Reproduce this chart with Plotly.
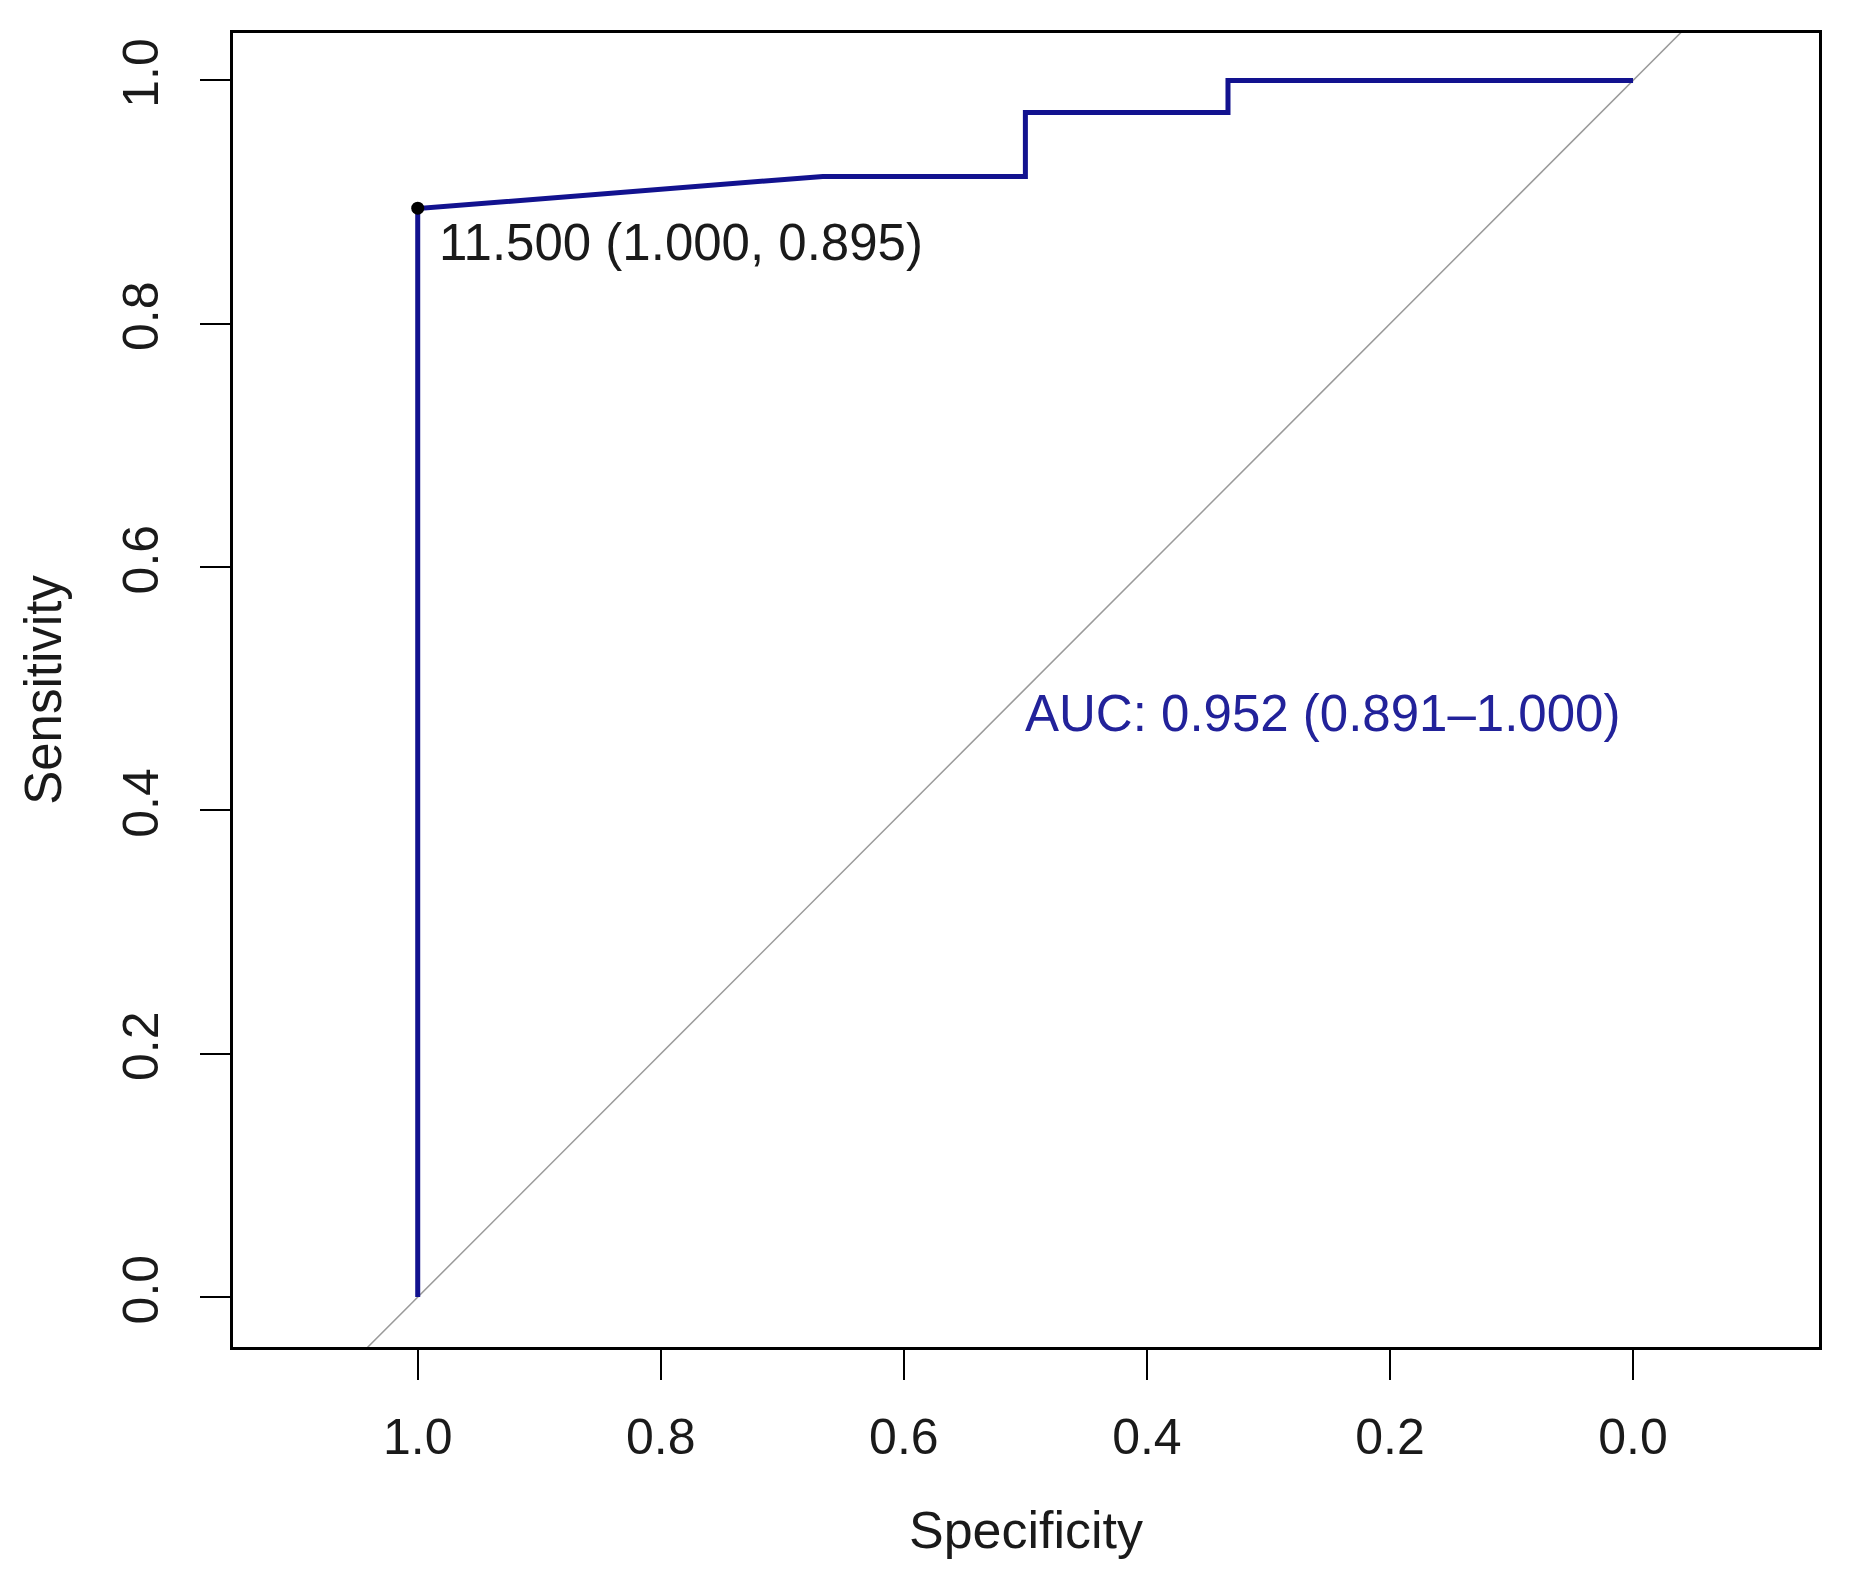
import plotly.graph_objects as go

# ROC curve (specificity on reversed x axis, sensitivity on y)
specificity = [1.0, 1.0, 0.6667, 0.5, 0.5, 0.3333, 0.3333, 0.0]
sensitivity = [0.0, 0.8947, 0.9211, 0.9211, 0.9737, 0.9737, 1.0, 1.0]

# best threshold point
thr_value = 11.5
thr_spec = 1.0
thr_sens = 0.895

# AUC and CI
auc = 0.952
auc_ci = (0.891, 1.000)

# chance diagonal
diag_x = [1.2, -0.2]
diag_y = [1 - v for v in diag_x]

tick_vals = [0.0, 0.2, 0.4, 0.6, 0.8, 1.0]
tick_text = ["0.0", "0.2", "0.4", "0.6", "0.8", "1.0"]

FONT = "Liberation Sans, Arial, sans-serif"
ROC_COL = "#12128f"

fig = go.Figure()
fig.add_trace(go.Scatter(x=diag_x, y=diag_y, mode="lines",
                         line=dict(color="#9a9a9a", width=1.5),
                         hoverinfo="skip", showlegend=False))
fig.add_trace(go.Scatter(x=specificity, y=sensitivity, mode="lines",
                         line=dict(color=ROC_COL, width=5),
                         showlegend=False))
fig.add_trace(go.Scatter(x=[thr_spec], y=[thr_sens], mode="markers",
                         marker=dict(color="black", size=13),
                         showlegend=False))

fig.add_annotation(x=0.984, y=0.867, xref="x", yref="y",
                   text=f"{thr_value:.3f} ({thr_spec:.3f}, {thr_sens:.3f})",
                   showarrow=False, xanchor="left", yanchor="middle",
                   font=dict(family=FONT, size=51, color="#1a1a1a"))
fig.add_annotation(x=0.502, y=0.48, xref="x", yref="y",
                   text=f"AUC: {auc:.3f} ({auc_ci[0]:.3f}\u2013{auc_ci[1]:.3f})",
                   showarrow=False, xanchor="left", yanchor="middle",
                   font=dict(family=FONT, size=51, color="#22229a"))

axis_common = dict(showgrid=False, zeroline=False, showline=True, mirror=True,
                   linecolor="black", linewidth=3, ticks="outside", ticklen=30,
                   tickwidth=2, tickcolor="black", tickvals=tick_vals,
                   ticktext=tick_text,
                   tickfont=dict(family=FONT, size=50, color="#1a1a1a"))

fig.update_xaxes(range=[1.152, -0.153], title=dict(text="Specificity", standoff=48,
                 font=dict(family=FONT, size=52, color="#1a1a1a")),
                 ticklabelstandoff=14, **axis_common)
fig.update_yaxes(range=[-0.041, 1.039], tickangle=-90,
                 title=dict(text="Sensitivity", standoff=36,
                            font=dict(family=FONT, size=51, color="#1a1a1a")),
                 ticklabelstandoff=22, **axis_common)

fig.update_layout(width=1852, height=1586,
                  margin=dict(l=225, r=41, t=25, b=247, autoexpand=False),
                  plot_bgcolor="white", paper_bgcolor="white",
                  font=dict(family=FONT))

fig.write_html("out.html")
